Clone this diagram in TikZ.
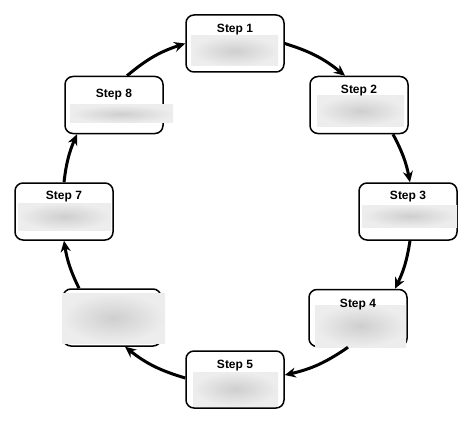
\documentclass[tikz,border=0pt]{standalone}
\usepackage{fontspec}
\setmainfont{Liberation Sans}
\usetikzlibrary{arrows.meta}
\begin{document}
\begin{tikzpicture}[x=1pt,y=1pt,
  stepbox/.style={draw=black, line width=1.5pt, rounded corners=8pt, fill=white,
    minimum width=98pt, minimum height=57pt, inner sep=0pt},
  steplabel/.style={font=\bfseries\fontsize{12}{14}\selectfont, anchor=base, inner sep=0pt},
  patch/.style={inner color=black!19, outer color=black!7},
  flow/.style={line width=3pt, -{Stealth[length=11pt,width=10pt]}}]
\useasboundingbox (0,0) rectangle (474,424);
% boxes
\node[stepbox] (s1) at (235,380.5) {};
\node[stepbox] (s2) at (359,319) {};
\node[stepbox] (s3) at (408,212.5) {};
\node[stepbox] (s4) at (358,106) {};
\node[stepbox] (s5) at (235,44.5) {};
\node[stepbox] (s6) at (112,106.5) {};
\node[stepbox] (s7) at (64,212.5) {};
\node[stepbox] (s8) at (114,319) {};
% blurred patches
\shade[patch] (191,358) rectangle (278,388);
\shade[patch] (317,298) rectangle (404,328);
\shade[patch] (362,197) rectangle (457,219);
\shade[patch] (315,77) rectangle (406,119);
\shade[patch] (193,18) rectangle (278,52);
\shade[patch] (62,81) rectangle (165,131);
\shade[patch] (18,194) rectangle (111,221);
\shade[patch] (70,301) rectangle (173,319);
% labels
\node[steplabel] (l1) at ([yshift=-18pt]s1.north) {Step 1};
\node[steplabel] (l2) at ([yshift=-18pt]s2.north) {Step 2};
\node[steplabel] (l3) at ([yshift=-17pt]s3.north) {Step 3};
\node[steplabel] (l4) at ([yshift=-18.5pt]s4.north) {Step 4};
\node[steplabel] (l5) at ([yshift=-18pt]s5.north) {Step 5};
\node[steplabel] (l7) at ([yshift=-17pt]s7.north) {Step 7};
\node[steplabel] (l8) at ([yshift=-22pt]s8.north) {Step 8};
% connectors
\draw[flow] (s1.east) to[bend left=11] ([xshift=-14pt]s2.north);
\draw[flow] ([xshift=34pt]s2.south) to[bend left=8.5] ([xshift=2pt]s3.north);
\draw[flow] ([xshift=2pt]s3.south) to[bend left=8.5] ([xshift=37pt]s4.north);
\draw[flow] ([xshift=-10pt]s4.south) to[bend left=11] ([yshift=4.5pt]s5.east);
\draw[flow] ([yshift=1.5pt]s5.west) to[bend left=11] ([xshift=13pt]s6.south);
\draw[flow] ([xshift=-33pt]s6.north) to[bend left=8.5] (s7.south);
\draw[flow] (s7.north) to[bend left=8.5] ([xshift=-37pt]s8.south);
\draw[flow] ([xshift=13pt]s8.north) to[bend left=11] (s1.west);
\end{tikzpicture}
\end{document}
